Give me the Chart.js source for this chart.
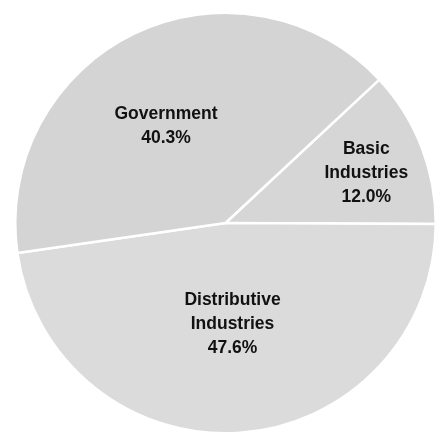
<!DOCTYPE html>
<html>
<head>
<meta charset="utf-8">
<script src="https://cdn.jsdelivr.net/npm/chart.js@4/dist/chart.umd.min.js"></script>
<style>
  html, body { margin: 0; padding: 0; background: #ffffff; }
  #wrap { width: 437px; height: 437px; position: relative; }
</style>
</head>
<body>
<div id="wrap"><canvas id="c"></canvas></div>
<script>
// ---- data ----
const categories = ["Basic\nIndustries", "Distributive\nIndustries", "Government"];
const shares = [12.0, 47.6, 40.3];
const shareLabels = ["12.0%", "47.6%", "40.3%"];

// ---- styling / label placement ----
const sliceColors = ["#d6d6d6", "#dbdbdb", "#d4d4d4"];
const labelRadius = [0.71, 0.48, 0.54];
const labelAngleNudge = [2, 0, -6]; // degrees

const labelPlugin = {
  id: "sliceLabels",
  afterDatasetsDraw(chart) {
    const ctx = chart.ctx;
    const meta = chart.getDatasetMeta(0);
    ctx.save();
    ctx.font = "bold 17.5px 'Liberation Sans', Arial, sans-serif";
    ctx.fillStyle = "#111111";
    ctx.textAlign = "center";
    ctx.textBaseline = "middle";
    meta.data.forEach((arc, i) => {
      const p = arc.getProps(["x", "y", "startAngle", "endAngle", "outerRadius"], true);
      const mid = (p.startAngle + p.endAngle) / 2 + labelAngleNudge[i] * Math.PI / 180;
      const r = p.outerRadius * labelRadius[i];
      const cx = p.x + Math.cos(mid) * r;
      const cy = p.y + Math.sin(mid) * r;
      const lines = categories[i].split("\n").concat([shareLabels[i]]);
      const lh = 24;
      const y0 = cy - (lines.length - 1) * lh / 2;
      lines.forEach((t, k) => ctx.fillText(t, cx, y0 + k * lh));
    });
    ctx.restore();
  }
};

new Chart(document.getElementById("c"), {
  type: "pie",
  data: {
    labels: categories.map(s => s.replace("\n", " ")),
    datasets: [{
      data: shares,
      backgroundColor: sliceColors,
      borderColor: "#ffffff",
      borderWidth: 2.5,
      hoverOffset: 0
    }]
  },
  options: {
    responsive: true,
    maintainAspectRatio: false,
    animation: false,
    rotation: 47,
    layout: { padding: { left: 14, right: 0, top: 9, bottom: 0 } },
    plugins: {
      legend: { display: false },
      tooltip: { enabled: false },
      title: { display: false }
    }
  },
  plugins: [labelPlugin]
});
</script>
</body>
</html>
